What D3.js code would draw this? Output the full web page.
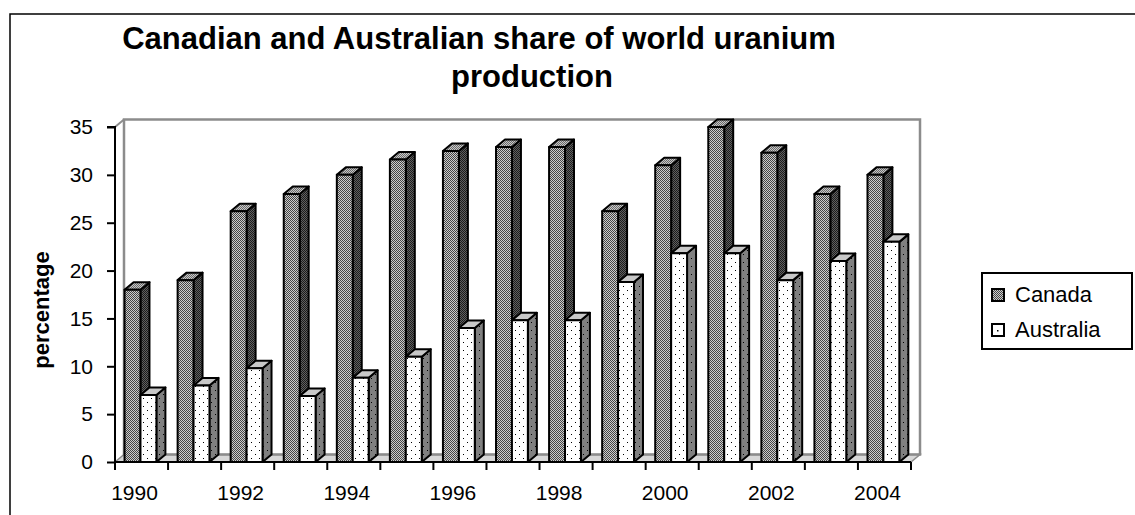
<!DOCTYPE html>
<html>
<head>
<meta charset="utf-8">
<script src="https://cdn.jsdelivr.net/npm/d3@7"></script>
<style>
  html, body { margin: 0; padding: 0; background: #fff; }
  svg { display: block; font-family: "Liberation Sans", Arial, sans-serif; }
</style>
</head>
<body>
<svg id="chart" width="1135" height="515"></svg>
<script>
const years = ["1990","1991","1992","1993","1994","1995","1996","1997","1998","1999","2000","2001","2002","2003","2004"];
const canada = [18, 19, 26.2, 28, 30, 31.6, 32.5, 32.9, 32.9, 26.2, 31, 35, 32.3, 28, 30];
const australia = [7, 8, 9.8, 6.9, 8.8, 11, 14, 14.8, 14.8, 18.8, 21.8, 21.8, 19, 21, 23];
const seriesNames = ["Canada", "Australia"];
const yTicks = [0, 5, 10, 15, 20, 25, 30, 35];
const xTickLabels = ["1990","1992","1994","1996","1998","2000","2002","2004"];
const titleLines = ["Canadian and Australian share of world uranium", "production"];
const yTitle = "percentage";

const svg = d3.select("#chart");
const defs = svg.append("defs");

function checker(id, base, dark) {
  const p = defs.append("pattern").attr("id", id).attr("patternUnits", "userSpaceOnUse")
    .attr("width", 2).attr("height", 2);
  p.append("rect").attr("width", 2).attr("height", 2).attr("fill", base);
  p.append("rect").attr("x", 0).attr("y", 0).attr("width", 1).attr("height", 1).attr("fill", dark);
  p.append("rect").attr("x", 1).attr("y", 1).attr("width", 1).attr("height", 1).attr("fill", dark);
}
function dots(id, base, dot) {
  const p = defs.append("pattern").attr("id", id).attr("patternUnits", "userSpaceOnUse")
    .attr("width", 8).attr("height", 8);
  p.append("rect").attr("width", 8).attr("height", 8).attr("fill", base);
  p.append("rect").attr("x", 3).attr("y", 2).attr("width", 1).attr("height", 1).attr("fill", dot);
  p.append("rect").attr("x", 7).attr("y", 6).attr("width", 1).attr("height", 1).attr("fill", dot);
}
checker("canFront", "#cccccc", "#454545");
checker("canSide", "#606060", "#1c1c1c");
checker("canTop", "#c8c8c8", "#6a6a6a");
dots("ausFront", "#ffffff", "#000000");
dots("ausSide", "#808080", "#000000");
dots("ausTop", "#c8c8c8", "#c8c8c8");

const fills = {
  Canada: { front: "url(#canFront)", side: "url(#canSide)", top: "url(#canTop)" },
  Australia: { front: "url(#ausFront)", side: "url(#ausSide)", top: "url(#ausTop)" }
};

// outer chart border
svg.append("rect").attr("x", 10).attr("y", 14).attr("width", 1200).attr("height", 600)
  .attr("fill", "none").attr("stroke", "#000").attr("stroke-width", 1.5);

// scales
const plotLeft = 115, plotRight = 911, plotBottom = 462, plotTop = 127;
const dx = 9, dy = -7.5;
const x = d3.scaleBand().domain(years).range([plotLeft, plotRight]).padding(0);
const bw = x.bandwidth();
const xs = d3.scaleBand().domain(seriesNames).range([0.18 * bw, 0.78 * bw]).padding(0);
const y = d3.scaleLinear().domain([0, 35]).range([plotBottom, plotTop]);

// walls
const wallStroke = "#8c8c8c";
svg.append("polygon")
  .attr("points", [[plotLeft, plotBottom], [plotLeft + dx, plotBottom + dy], [plotRight + dx, plotBottom + dy], [plotRight, plotBottom]].join(" "))
  .attr("fill", "#d8d8d8").attr("stroke", wallStroke).attr("stroke-width", 1.5);
svg.append("rect").attr("x", plotLeft + dx).attr("y", y(35) + dy)
  .attr("width", plotRight - plotLeft).attr("height", y(0) - y(35))
  .attr("fill", "none").attr("stroke", wallStroke).attr("stroke-width", 2.5);
svg.append("line").attr("x1", plotLeft).attr("y1", y(35)).attr("x2", plotLeft + dx).attr("y2", y(35) + dy)
  .attr("stroke", wallStroke).attr("stroke-width", 2);

// bars
const data = years.map((yr, i) => ({ year: yr, values: [
  { name: "Canada", v: canada[i] }, { name: "Australia", v: australia[i] }] }));

const groups = svg.append("g").selectAll("g").data(data).join("g");
groups.each(function(d) {
  const g = d3.select(this);
  d.values.forEach(s => {
    const x0 = x(d.year) + xs(s.name);
    const w = xs.bandwidth();
    const yt = y(s.v), yb = y(0);
    const f = fills[s.name];
    const bg = g.append("g").attr("stroke", "#000").attr("stroke-width", 2).attr("stroke-linejoin", "round");
    bg.append("polygon").attr("points", [[x0 + w, yt], [x0 + w + dx, yt + dy], [x0 + w + dx, yb + dy], [x0 + w, yb]].join(" "))
      .attr("fill", f.side);
    bg.append("polygon").attr("points", [[x0, yt], [x0 + dx, yt + dy], [x0 + w + dx, yt + dy], [x0 + w, yt]].join(" "))
      .attr("fill", f.top);
    bg.append("rect").attr("x", x0).attr("y", yt).attr("width", w).attr("height", yb - yt)
      .attr("fill", f.front);
  });
});

// y axis
const yAxis = d3.axisLeft(y).tickValues(yTicks).tickSize(8).tickPadding(14).tickFormat(d3.format("d"));
const yg = svg.append("g").attr("transform", `translate(${plotLeft},0)`).call(yAxis);
yg.select(".domain").attr("stroke", "#000").attr("stroke-width", 2).attr("d", `M-8,${y(35)}H0V${y(0)}`);
yg.selectAll(".tick line").attr("stroke", "#000").attr("stroke-width", 2);
yg.selectAll(".tick text").attr("font-size", 21).attr("fill", "#000")
  .attr("font-family", "Liberation Sans, Arial, sans-serif");

// x axis
const xg = svg.append("g").attr("transform", `translate(0,${plotBottom})`);
xg.append("line").attr("x1", plotLeft).attr("x2", plotRight).attr("y1", 0).attr("y2", 0)
  .attr("stroke", "#000").attr("stroke-width", 2);
const bounds = years.map(yr => x(yr)).concat([plotRight]);
xg.selectAll("line.tk").data(bounds).join("line").attr("class", "tk")
  .attr("x1", d => d).attr("x2", d => d).attr("y1", 0).attr("y2", 8)
  .attr("stroke", "#000").attr("stroke-width", 2);
xg.selectAll("text").data(xTickLabels).join("text")
  .attr("x", d => x(d) + bw / 2 - 7).attr("y", 38)
  .attr("text-anchor", "middle").attr("font-size", 21).attr("fill", "#000").text(d => d);

// title
svg.append("text").attr("x", 479).attr("y", 49).attr("text-anchor", "middle")
  .attr("font-size", 31).attr("font-weight", "bold").text(titleLines[0]);
svg.append("text").attr("x", 532).attr("y", 87).attr("text-anchor", "middle")
  .attr("font-size", 31).attr("font-weight", "bold").text(titleLines[1]);

// y title
svg.append("text").attr("transform", "translate(49,310) rotate(-90)").attr("text-anchor", "middle")
  .attr("font-size", 22).attr("font-weight", "bold").text(yTitle);

// legend
const lg = svg.append("g");
lg.append("rect").attr("x", 982).attr("y", 273).attr("width", 150).attr("height", 76)
  .attr("fill", "#fff").attr("stroke", "#000").attr("stroke-width", 2);
const legendFill = { Canada: "url(#canFront)", Australia: "url(#ausFront)" };
seriesNames.forEach((n, i) => {
  const cy = 295 + i * 35;
  lg.append("rect").attr("x", 992).attr("y", cy - 6).attr("width", 12).attr("height", 12)
    .attr("fill", n === "Australia" ? "#fff" : legendFill[n]).attr("stroke", "#000").attr("stroke-width", 2);
  if (n === "Australia") lg.append("rect").attr("x", 997).attr("y", cy).attr("width", 1.5).attr("height", 1.5).attr("fill", "#000");
  lg.append("text").attr("x", 1015).attr("y", cy + 7).attr("font-size", 22).attr("fill", "#000").text(n);
});
</script>
</body>
</html>
